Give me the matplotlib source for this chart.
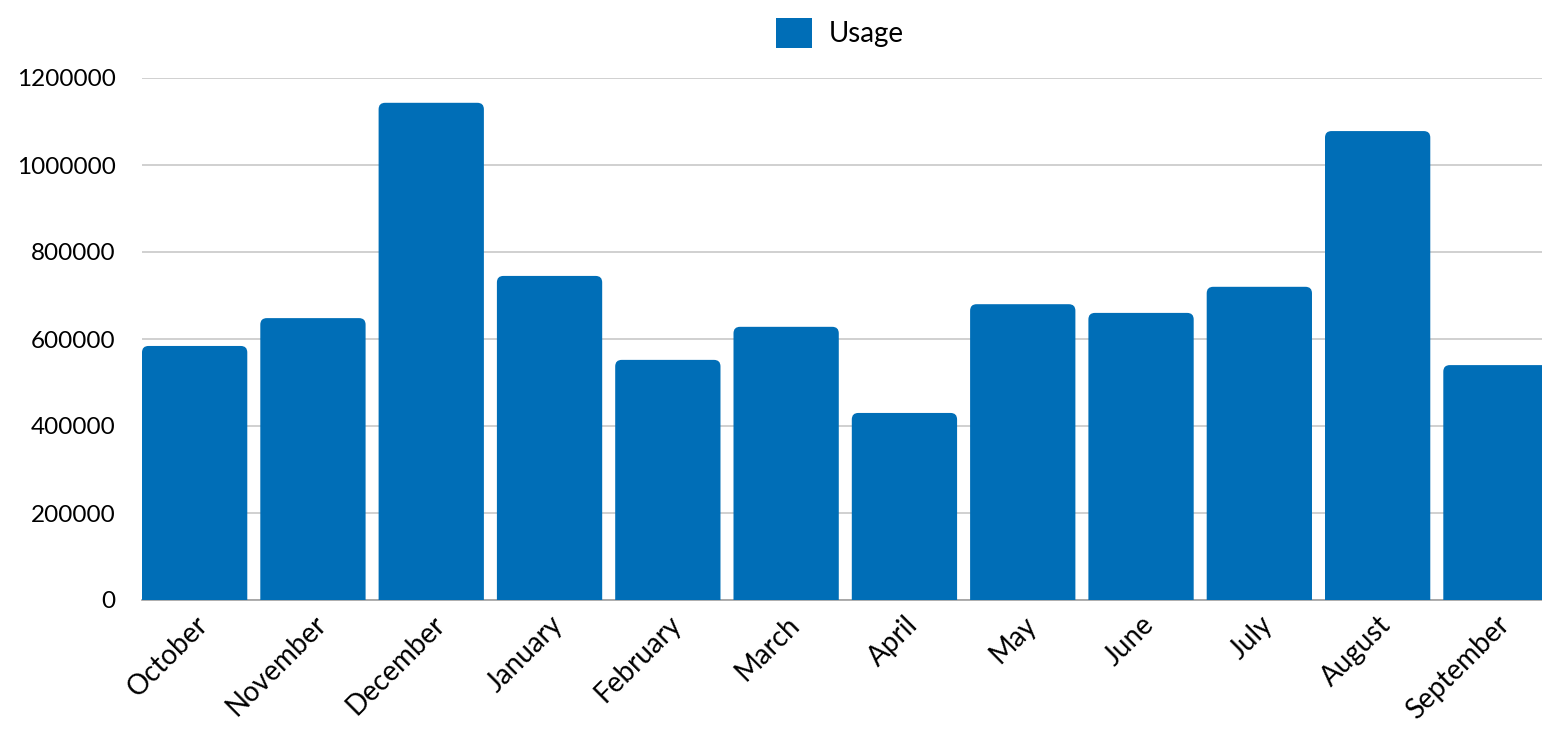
import matplotlib
matplotlib.use("Agg")
import matplotlib.pyplot as plt
from matplotlib.patches import FancyBboxPatch, Patch

MONTHS = ["October", "November", "December", "January", "February", "March",
          "April", "May", "June", "July", "August", "September"]
USAGE = [584000, 648000, 1143000, 745000, 552000, 628000,
         430000, 680000, 660000, 720000, 1078000, 540000]
Y_TICKS = [0, 200000, 400000, 600000, 800000, 1000000, 1200000]

BAR_COLOR = "#006eb7"
GRID_COLOR = "#c8c8c8"
BAR_WIDTH = 0.89

plt.rcParams["font.family"] = ["Lato", "DejaVu Sans"]

fig = plt.figure(figsize=(15.42, 7.29), dpi=100)
ax = fig.add_axes([142 / 1542, 1 - 600 / 729, 1400 / 1542, 522 / 729])

ax.set_xlim(-BAR_WIDTH / 2, -BAR_WIDTH / 2 + 1400 / 118.3)
ax.set_ylim(0, 1200000)

# rounded top corners: round box extended below zero, clipped by the axes
x_per_px = 118.3
y_per_px = 1200000 / 522
aspect = y_per_px * x_per_px
for i, val in enumerate(USAGE):
    box = FancyBboxPatch((i - BAR_WIDTH / 2, -40000), BAR_WIDTH, val + 40000,
                         boxstyle="round,pad=0,rounding_size=0.055",
                         mutation_aspect=aspect,
                         facecolor=BAR_COLOR, edgecolor="none", zorder=3)
    ax.add_patch(box)

ax.set_yticks(Y_TICKS)
ax.set_yticklabels([str(v) for v in Y_TICKS], fontsize=17.5)
ax.set_xticks(range(len(MONTHS)))
ax.set_xticklabels(MONTHS, fontsize=20, rotation=45, ha="right",
                   rotation_mode="anchor")
ax.tick_params(axis="y", length=0, pad=19)
ax.tick_params(axis="x", length=0, pad=8)

ax.grid(axis="y", color=GRID_COLOR, linewidth=1.2, zorder=0)
for side in ["top", "right", "left"]:
    ax.spines[side].set_visible(False)
ax.spines["bottom"].set_color("#a0a0a0")
ax.spines["bottom"].set_linewidth(1.2)

handle = Patch(facecolor=BAR_COLOR, edgecolor="none", label="Usage")
fig.legend(handles=[handle], loc="center", bbox_to_anchor=(840 / 1542, 1 - 33 / 729),
           frameon=False, fontsize=20, handlelength=1.3, handleheight=1.3,
           handletextpad=0.6)

fig.savefig("out.png", dpi=100)
